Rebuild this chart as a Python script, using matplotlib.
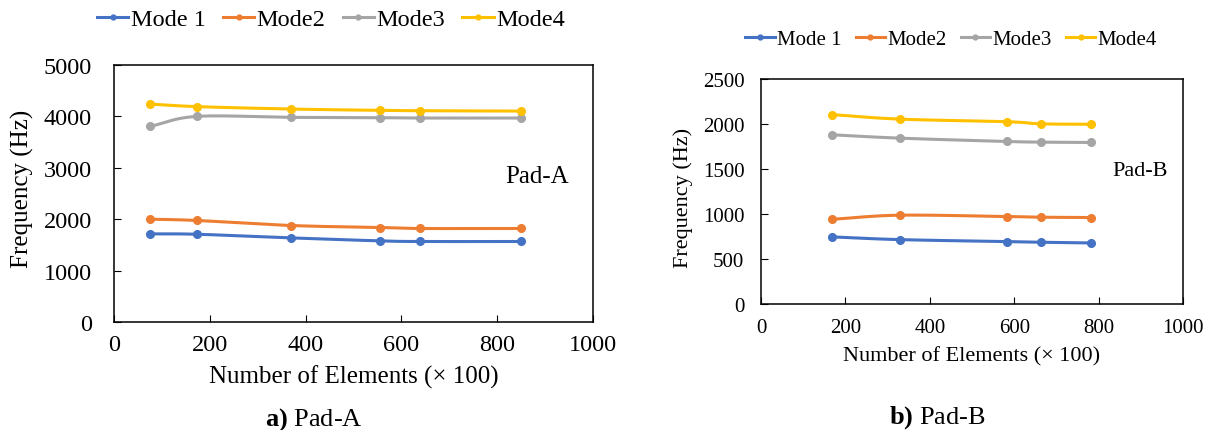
import matplotlib
matplotlib.use("Agg")
import matplotlib.pyplot as plt
import numpy as np

plt.rcParams['font.family'] = ['Liberation Serif', 'DejaVu Serif']
plt.rcParams['mathtext.fontset'] = 'custom'
plt.rcParams['mathtext.rm'] = 'Liberation Serif'
plt.rcParams['mathtext.bf'] = 'Liberation Serif:bold'

# data
modes = ['Mode 1', 'Mode2', 'Mode3', 'Mode4']
colors = ['#4472C4', '#ED7D31', '#A5A5A5', '#FFC000']

elements_a = [75, 173, 370, 556, 639, 850]
mode1_a = [1714, 1707, 1636, 1578, 1566, 1566]
mode2_a = [2000, 1975, 1877, 1838, 1819, 1819]
mode3_a = [3805, 4000, 3981, 3975, 3968, 3968]
mode4_a = [4240, 4190, 4143, 4117, 4110, 4103]

elements_b = [169, 330, 584, 663, 781]
mode1_b = [748, 718, 696, 689, 681]
mode2_b = [944, 989, 974, 967, 963]
mode3_b = [1881, 1844, 1807, 1800, 1796]
mode4_b = [2105, 2055, 2026, 2003, 1998]


def smooth(x, y, n=30):
    # catmull-rom curve through the points, like excel's smoothed line
    x = np.asarray(x, float)
    y = np.asarray(y, float)
    px = np.concatenate([[2 * x[0] - x[1]], x, [2 * x[-1] - x[-2]]])
    py = np.concatenate([[2 * y[0] - y[1]], y, [2 * y[-1] - y[-2]]])
    xs, ys = [], []
    t = np.linspace(0, 1, n)
    for i in range(1, len(px) - 2):
        for p, out in ((px, xs), (py, ys)):
            p0, p1, p2, p3 = p[i - 1], p[i], p[i + 1], p[i + 2]
            out.append(0.5 * ((2 * p1) + (-p0 + p2) * t
                              + (2 * p0 - 5 * p1 + 4 * p2 - p3) * t ** 2
                              + (-p0 + 3 * p1 - 3 * p2 + p3) * t ** 3))
    return np.concatenate(xs), np.concatenate(ys)


def draw(ax, x, series, fs, xpad, ypad):
    for name, y, c in zip(modes, series, colors):
        sx, sy = smooth(x, y)
        ax.plot(sx, sy, color=c, lw=2.2, solid_capstyle='round')
        ax.plot(x, y, 'o', color=c, ms=5.5)
        ax.plot([], [], '-o', color=c, lw=2.2, ms=3.5, label=name)
    ax.set_xlim(0, 1000)
    ax.set_xticks(range(0, 1001, 200))
    for s in ax.spines.values():
        s.set_linewidth(1.1)
    ax.tick_params(axis='x', direction='in', length=5, labelsize=fs, pad=xpad)
    ax.tick_params(axis='y', direction='in', length=5, labelsize=fs, pad=ypad)


fig = plt.figure(figsize=(12.12, 4.31), dpi=100)

ax1 = fig.add_axes([0.0941, 0.2506, 0.3952, 0.5963])
draw(ax1, elements_a, [mode1_a, mode2_a, mode3_a, mode4_a], 17.5, 9, 16)
ax1.set_ylim(0, 5000)
ax1.set_yticks(range(0, 5001, 1000))
ax1.set_xlabel('Number of Elements (× 100)', fontsize=18)
ax1.set_ylabel('Frequency (Hz)', fontsize=18)
ax1.xaxis.set_label_coords(0.5, -0.167)
ax1.yaxis.set_label_coords(-0.167, 0.52)
ax1.text(817, 2838, 'Pad-A', fontsize=18, va='center')
ax1.legend(loc='center', bbox_to_anchor=(331 / 1212, 1 - 20 / 431),
           bbox_transform=fig.transFigure, ncol=4, frameon=False,
           fontsize=17.5, handlelength=1.3, handletextpad=0.1,
           columnspacing=0.7, borderaxespad=0)

ax2 = fig.add_axes([0.6279, 0.2916, 0.3482, 0.5227])
draw(ax2, elements_b, [mode1_b, mode2_b, mode3_b, mode4_b], 15, 10, 12)
ax2.set_ylim(0, 2500)
ax2.set_yticks(range(0, 2501, 500))
ax2.set_xlabel('Number of Elements (× 100)', fontsize=16)
ax2.set_ylabel('Frequency (Hz)', fontsize=16)
ax2.xaxis.set_label_coords(0.5, -0.185)
ax2.yaxis.set_label_coords(-0.161, 0.476)
ax2.text(832, 1484, 'Pad-B', fontsize=16, va='center')
ax2.legend(loc='center', bbox_to_anchor=(951 / 1212, 1 - 40 / 431),
           bbox_transform=fig.transFigure, ncol=4, frameon=False,
           fontsize=15, handlelength=1.4, handletextpad=0.1,
           columnspacing=0.7, borderaxespad=0)

fig.text(313.7 / 1212, 1 - 420 / 431, r'$\mathbf{a)}$ Pad-A', fontsize=19,
         ha='center', va='center')
fig.text(937 / 1212, 1 - 418 / 431, r'$\mathbf{b)}$ Pad-B', fontsize=19,
         ha='center', va='center')

fig.savefig('out.png', dpi=100)
